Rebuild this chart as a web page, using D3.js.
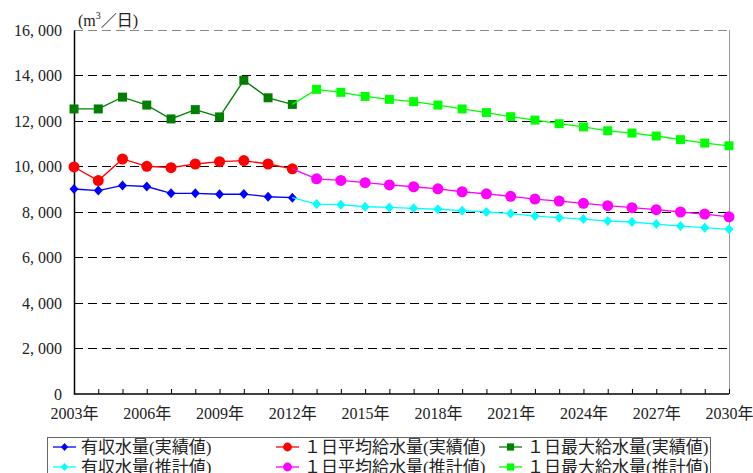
<!DOCTYPE html>
<html>
<head>
<meta charset="utf-8">
<script src="https://cdn.jsdelivr.net/npm/d3@7"></script>
<style>
  body { margin: 0; background: #fff; }
</style>
</head>
<body>
<div id="chart"></div>
<script>
// years
const years = d3.range(2003, 2031)
const actualYears = d3.range(2003, 2013)
const projYears = d3.range(2013, 2031)

// 有収水量
const revenueActual = [9010, 8940, 9170, 9120, 8820, 8820, 8780, 8790, 8670, 8630]
const revenueProj = [8350, 8320, 8230, 8200, 8160, 8120, 8060, 8000, 7930, 7820, 7750, 7690, 7600, 7560, 7470, 7380, 7310, 7240]
// 1日平均給水量
const avgActual = [9980, 9380, 10330, 10010, 9950, 10110, 10210, 10260, 10110, 9900]
const avgProj = [9460, 9390, 9290, 9190, 9110, 9020, 8890, 8800, 8690, 8570, 8480, 8380, 8280, 8190, 8100, 8000, 7910, 7790]
// 1日最大給水量
const maxActual = [12530, 12530, 13050, 12700, 12090, 12500, 12180, 13790, 13020, 12730]
const maxProj = [13390, 13260, 13080, 12950, 12850, 12700, 12530, 12370, 12190, 12040, 11880, 11740, 11570, 11470, 11340, 11180, 11030, 10910]

const yTicks = [0, 2000, 4000, 6000, 8000, 10000, 12000, 14000, 16000]
const xLabelYears = [2003, 2006, 2009, 2012, 2015, 2018, 2021, 2024, 2027, 2030]

const FONT = '"Liberation Serif", "DejaVu Serif", "Noto Sans CJK JP", serif'

const width = 753
const height = 473
const margin = { top: 30, right: 24, bottom: 79, left: 74 }

const svg = d3.select("#chart").append("svg")
  .attr("width", width)
  .attr("height", height)

const x = d3.scaleLinear().domain([2003, 2030]).range([margin.left, width - margin.right])
const y = d3.scaleLinear().domain([0, 16000]).range([height - margin.bottom, margin.top])

const fmt = v => v === 0 ? "0" : d3.format(",")(v).replace(",", ", ")

// gridlines
svg.append("g").selectAll("line")
  .data(yTicks.filter(d => d > 0))
  .enter().append("line")
  .attr("x1", x(2003)).attr("x2", x(2030))
  .attr("y1", d => y(d)).attr("y2", d => y(d))
  .attr("stroke", d => d === 16000 ? "#888" : "#000")
  .attr("stroke-width", 1)
  .attr("stroke-dasharray", "9,5")
  .attr("shape-rendering", "crispEdges")

// right border
svg.append("line")
  .attr("x1", x(2030)).attr("x2", x(2030))
  .attr("y1", y(16000)).attr("y2", y(0))
  .attr("stroke", "#999")
  .attr("shape-rendering", "crispEdges")

// y axis
const yAxis = svg.append("g")
  .attr("transform", `translate(${margin.left},0)`)
  .call(d3.axisLeft(y).tickValues(yTicks).tickSize(0).tickFormat(fmt))
yAxis.select(".domain").attr("stroke", "#000").attr("stroke-width", 1.5)
yAxis.selectAll("text")
  .style("font-family", FONT).style("font-size", "16px")
  .attr("fill", "#222").attr("x", -12)

// x axis
const xAxis = svg.append("g")
  .attr("transform", `translate(0,${y(0)})`)
  .call(d3.axisBottom(x).tickValues(years).tickSize(5).tickFormat(d => xLabelYears.includes(d) ? d + "年" : ""))
xAxis.select(".domain").attr("stroke", "#000").attr("stroke-width", 1.5).attr("d", `M${x(2003)},0H${x(2030)}`)
xAxis.selectAll(".tick line").attr("stroke", "#000").attr("y1", 0).attr("y2", -5)
xAxis.selectAll("text")
  .style("font-family", FONT).style("font-size", "16px")
  .attr("fill", "#222").attr("y", 14)

// unit label
const unit = svg.append("text")
  .attr("x", margin.left + 4).attr("y", 26)
  .style("font-family", FONT).style("font-size", "16px")
  .attr("fill", "#222")
unit.append("tspan").text("(m")
unit.append("tspan").text("3").style("font-size", "10px").attr("dy", -7)
unit.append("tspan").text("／日)").attr("dy", 7)

const series = [
  { name: "有収水量(実績値)", yrs: actualYears, vals: revenueActual, color: "#0000FF", shape: "diamond" },
  { name: "有収水量(推計値)", yrs: projYears, vals: revenueProj, color: "#00FFFF", shape: "diamond", from: revenueActual },
  { name: "１日平均給水量(実績値)", yrs: actualYears, vals: avgActual, color: "#FF0000", shape: "circle" },
  { name: "１日平均給水量(推計値)", yrs: projYears, vals: avgProj, color: "#FF00FF", shape: "circle", from: avgActual },
  { name: "１日最大給水量(実績値)", yrs: actualYears, vals: maxActual, color: "#008000", shape: "square" },
  { name: "１日最大給水量(推計値)", yrs: projYears, vals: maxProj, color: "#00FF00", shape: "square", from: maxActual }
]

function markerPath(shape, k) {
  if (shape === "diamond") {
    const w = 4.5 * k, h = 5 * k
    return `M0,${-h}L${w},0L0,${h}L${-w},0Z`
  }
  if (shape === "circle") return d3.symbol().type(d3.symbolCircle).size(95 * k * k)()
  return d3.symbol().type(d3.symbolSquare).size(81 * k * k)()
}

const line = d3.line().x(d => x(d[0])).y(d => y(d[1]))

series.forEach(s => {
  let pts = s.yrs.map((yr, i) => [yr, s.vals[i]])
  let linePts = pts
  if (s.from) linePts = [[2012, s.from[s.from.length - 1]], ...pts]
  svg.append("path")
    .attr("d", line(linePts))
    .attr("fill", "none")
    .attr("stroke", s.color)
    .attr("stroke-width", 1.3)
  svg.append("g").selectAll("path")
    .data(pts)
    .enter().append("path")
    .attr("transform", d => `translate(${x(d[0])},${y(d[1])})`)
    .attr("d", markerPath(s.shape, 1))
    .attr("fill", s.color)
})

// legend
const legend = svg.append("g")
legend.append("rect")
  .attr("x", 47.5).attr("y", 437.5)
  .attr("width", 663).attr("height", 50)
  .attr("fill", "#fff").attr("stroke", "#666")

const colX = [53, 276, 499]
series.forEach((s, i) => {
  const col = Math.floor(i / 2)
  const row = i % 2
  const lx = colX[col]
  const ly = 447 + row * 20
  legend.append("line")
    .attr("x1", lx).attr("x2", lx + 23)
    .attr("y1", ly).attr("y2", ly)
    .attr("stroke", s.color).attr("stroke-width", 1.3)
  legend.append("path")
    .attr("transform", `translate(${lx + 11.5},${ly})`)
    .attr("d", markerPath(s.shape, 0.8))
    .attr("fill", s.color)
  legend.append("text")
    .attr("x", lx + 28).attr("y", ly + 6)
    .style("font-family", FONT).style("font-size", "17px")
    .attr("fill", "#222")
    .text(s.name)
})
</script>
</body>
</html>
